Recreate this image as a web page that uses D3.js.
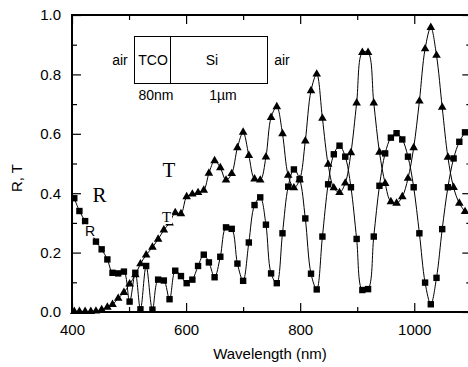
<!DOCTYPE html>
<html>
<head>
<meta charset="utf-8">
<script src="https://cdn.jsdelivr.net/npm/d3@7"></script>
<style>
  html, body { margin: 0; padding: 0; background: #fff; }
  text { font-family: "Liberation Sans", Arial, sans-serif; fill: #000; }
</style>
</head>
<body>
<svg id="chart" width="468" height="367"></svg>
<script>
// wavelengths (nm) shared by the measured R and T points
const wavelengths = [404, 413, 423, 433, 442, 452, 462, 471, 481, 491,
  501, 511, 520, 530, 541, 551, 561, 571, 581, 591,
  601, 611, 621, 631, 640, 650, 660, 670, 680, 690,
  700, 710, 720, 730, 740, 749, 759, 769, 779, 789,
  799, 809, 819, 829, 839, 849, 859, 869, 879, 889,
  899, 909, 919, 929, 939, 949, 959, 969, 979, 989,
  999, 1009, 1019, 1029, 1039, 1049, 1059, 1069, 1079, 1089];

// reflectance (squares)
const reflectance = [0.383, 0.340, 0.306, 0.272, 0.237, 0.211, 0.177, 0.132, 0.130, 0.136,
  0.035, 0.132, 0.009, 0.155, 0.008, 0.109, 0.106, 0.043, 0.139, 0.121,
  0.097, 0.109, 0.155, 0.193, 0.167, 0.117, 0.186, 0.285, 0.280, 0.163,
  0.105, 0.234, 0.360, 0.386, 0.294, 0.130, 0.097, 0.265, 0.422, 0.480,
  0.447, 0.315, 0.129, 0.076, 0.254, 0.430, 0.531, 0.560, 0.523, 0.420,
  0.246, 0.074, 0.077, 0.254, 0.425, 0.534, 0.587, 0.602, 0.581, 0.523,
  0.420, 0.265, 0.099, 0.026, 0.115, 0.279, 0.420, 0.517, 0.573, 0.605];

// transmittance (triangles)
const transmittance = [0.002, 0.002, 0.002, 0.002, 0.003, 0.008, 0.016, 0.025, 0.046, 0.066,
  0.094, 0.125, 0.162, 0.192, 0.218, 0.245, 0.276, 0.300, 0.334, 0.331,
  0.388, 0.397, 0.402, 0.410, 0.467, 0.509, 0.486, 0.444, 0.466, 0.553,
  0.605, 0.527, 0.448, 0.444, 0.522, 0.655, 0.691, 0.600, 0.460, 0.418,
  0.445, 0.576, 0.745, 0.801, 0.652, 0.497, 0.418, 0.402, 0.434, 0.536,
  0.704, 0.874, 0.874, 0.704, 0.538, 0.433, 0.371, 0.366, 0.388, 0.450,
  0.553, 0.710, 0.886, 0.958, 0.864, 0.689, 0.521, 0.419, 0.366, 0.338];

const xMajorTicks = [400, 600, 800, 1000];
const xMinorTicks = [500, 700, 900];
const yMajorTicks = [0, 0.2, 0.4, 0.6, 0.8, 1.0];
const yMinorTicks = [0.1, 0.3, 0.5, 0.7, 0.9];

const margin = { top: 15, left: 72, right: 471.3, bottom: 312 };
const serif = '"Liberation Serif", "Times New Roman", serif';

const svg = d3.select('#chart');

const x = d3.scaleLinear().domain([400, 1100]).range([margin.left, margin.right]);
const y = d3.scaleLinear().domain([0, 1]).range([margin.bottom, margin.top]);

svg.append('defs').append('clipPath').attr('id', 'plot-clip')
  .append('rect')
  .attr('x', margin.left).attr('y', margin.top)
  .attr('width', margin.right - margin.left).attr('height', margin.bottom - margin.top);

// axes, ticks pointing inward
function styleAxis(g) {
  g.select('.domain').remove();
  g.selectAll('.tick line').attr('stroke', '#000').attr('stroke-width', 1.2);
  g.selectAll('.tick text').attr('font-size', 15).attr('font-family', '"Liberation Sans", Arial, sans-serif');
}

svg.append('g').attr('transform', `translate(0,${margin.bottom})`)
  .call(d3.axisBottom(x).tickValues(xMajorTicks).tickSize(-9).tickPadding(12).tickFormat(d3.format('d')))
  .call(styleAxis);
svg.append('g').attr('transform', `translate(0,${margin.bottom})`)
  .call(d3.axisBottom(x).tickValues(xMinorTicks).tickSize(-5).tickFormat(''))
  .call(styleAxis);
svg.append('g').attr('transform', `translate(0,${margin.top})`)
  .call(d3.axisTop(x).tickValues(xMajorTicks).tickSize(-9).tickFormat(''))
  .call(styleAxis);
svg.append('g').attr('transform', `translate(0,${margin.top})`)
  .call(d3.axisTop(x).tickValues(xMinorTicks).tickSize(-5).tickFormat(''))
  .call(styleAxis);

svg.append('g').attr('transform', `translate(${margin.left},0)`)
  .call(d3.axisLeft(y).tickValues(yMajorTicks).tickSize(-9).tickPadding(11).tickFormat(d3.format('.1f')))
  .call(styleAxis);
svg.append('g').attr('transform', `translate(${margin.left},0)`)
  .call(d3.axisLeft(y).tickValues(yMinorTicks).tickSize(-5).tickFormat(''))
  .call(styleAxis);
svg.append('g').attr('transform', `translate(${margin.right},0)`)
  .call(d3.axisRight(y).tickValues(yMajorTicks).tickSize(-9).tickFormat(''))
  .call(styleAxis);
svg.append('g').attr('transform', `translate(${margin.right},0)`)
  .call(d3.axisRight(y).tickValues(yMinorTicks).tickSize(-5).tickFormat(''))
  .call(styleAxis);

// curves through the points
const plot = svg.append('g');
const seriesR = wavelengths.map((w, i) => ({ w, v: reflectance[i] }));
const seriesT = wavelengths.map((w, i) => ({ w, v: transmittance[i] }));
const line = d3.line().x(d => x(d.w)).y(d => y(d.v)).curve(d3.curveCatmullRom.alpha(0.5));

[seriesR, seriesT].forEach(s => {
  plot.append('path').datum(s)
    .attr('clip-path', 'url(#plot-clip)')
    .attr('fill', 'none').attr('stroke', '#000').attr('stroke-width', 1)
    .attr('d', line);
});

plot.selectAll('rect.r-pt').data(seriesR).enter().append('rect')
  .attr('class', 'r-pt')
  .attr('x', d => x(d.w) - 3.2).attr('y', d => y(d.v) - 3.2)
  .attr('width', 6.4).attr('height', 6.4).attr('fill', '#000');

const tri = d3.symbol().type(d3.symbolTriangle).size(32);
plot.selectAll('path.t-pt').data(seriesT).enter().append('path')
  .attr('class', 't-pt')
  .attr('transform', d => `translate(${x(d.w)},${y(d.v)})`)
  .attr('d', tri).attr('fill', '#000');

// frame
svg.append('rect')
  .attr('x', margin.left).attr('y', margin.top)
  .attr('width', margin.right - margin.left).attr('height', margin.bottom - margin.top)
  .attr('fill', 'none').attr('stroke', '#000').attr('stroke-width', 2);

// axis titles
svg.append('text').attr('x', 270).attr('y', 359).attr('text-anchor', 'middle')
  .attr('font-size', 15).text('Wavelength (nm)');
svg.append('text').attr('transform', 'translate(22,178) rotate(-90)')
  .attr('text-anchor', 'middle').attr('font-size', 15).text('R, T');

// curve labels
svg.append('text').attr('x', 99.5).attr('y', 202).attr('text-anchor', 'middle')
  .style('font-family', serif).attr('font-size', 21).text('R');
svg.append('text').attr('x', 169).attr('y', 177).attr('text-anchor', 'middle')
  .style('font-family', serif).attr('font-size', 21).text('T');

// small labels sit on a white patch that hides the point below them
function boxedLabel(t, lx, ly, size, family) {
  const g = svg.append('g');
  const bg = g.append('rect').attr('fill', '#fff');
  const txt = g.append('text').attr('x', lx).attr('y', ly).attr('text-anchor', 'middle')
    .attr('font-size', size).text(t);
  if (family) txt.style('font-family', family);
  const b = txt.node().getBBox();
  bg.attr('x', b.x - 1).attr('y', b.y + 2).attr('width', b.width + 2).attr('height', b.height - 3);
}
boxedLabel('R', 90, 235.5, 14);
boxedLabel('T', 166.5, 222, 15, serif);

// layer stack inset
const inset = svg.append('g');
inset.append('rect').attr('x', 134.5).attr('y', 36.5).attr('width', 133).attr('height', 47)
  .attr('fill', '#fff').attr('stroke', '#000').attr('stroke-width', 1);
inset.append('line').attr('x1', 170.5).attr('x2', 170.5).attr('y1', 36.5).attr('y2', 83.5)
  .attr('stroke', '#000').attr('stroke-width', 1);
const insetText = [
  { t: 'air', x: 120, y: 65 },
  { t: 'TCO', x: 153, y: 65 },
  { t: 'Si', x: 212, y: 65 },
  { t: 'air', x: 282, y: 65 },
  { t: '80nm', x: 156, y: 100 },
  { t: '1\u00b5m', x: 223, y: 100 }
];
inset.selectAll('text').data(insetText).enter().append('text')
  .attr('x', d => d.x).attr('y', d => d.y).attr('text-anchor', 'middle')
  .attr('font-size', 14).text(d => d.t);
</script>
</body>
</html>
